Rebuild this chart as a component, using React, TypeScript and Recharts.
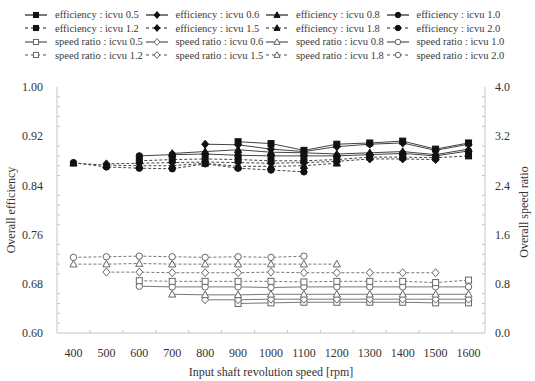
import { Legend, Line, LineChart, XAxis, YAxis } from "recharts";

// input shaft speed [rpm]
const RPM = [400, 500, 600, 700, 800, 900, 1000, 1100, 1200, 1300, 1400, 1500, 1600];

const EFF_05 = [null, null, null, null, null, 0.911, 0.908, 0.897, 0.907, 0.909, 0.912, 0.899, 0.909];
const EFF_06 = [null, null, null, null, 0.907, 0.906, 0.899, 0.895, 0.903, 0.907, 0.909, 0.897, 0.907];
const EFF_08 = [null, null, null, 0.892, 0.895, 0.898, 0.894, 0.893, 0.891, 0.893, 0.895, 0.89, 0.899];
const EFF_10 = [null, null, 0.888, 0.89, 0.891, 0.889, 0.888, 0.888, 0.888, 0.89, 0.892, 0.888, 0.896];
const EFF_12 = [null, null, 0.88, 0.882, 0.883, 0.882, 0.88, 0.88, 0.882, 0.886, 0.886, 0.885, 0.888];
const EFF_15 = [null, 0.875, 0.876, 0.877, 0.878, 0.877, 0.876, 0.877, 0.879, 0.883, 0.883, 0.882, null];
const EFF_18 = [0.876, 0.873, 0.872, 0.872, 0.876, 0.871, 0.871, 0.872, 0.876, null, null, null, null];
const EFF_20 = [0.877, 0.87, 0.868, 0.867, 0.875, 0.868, 0.865, 0.862, null, null, null, null, null];

// overall speed ratio
const SR_05 = [null, null, null, null, null, 0.48, 0.49, 0.5, 0.5, 0.5, 0.5, 0.49, 0.49];
const SR_06 = [null, null, null, null, 0.54, 0.54, 0.55, 0.55, 0.55, 0.55, 0.55, 0.55, 0.55];
const SR_08 = [null, null, null, 0.63, 0.62, 0.62, 0.63, 0.63, 0.63, 0.63, 0.63, 0.63, 0.63];
const SR_10 = [null, null, 0.76, 0.75, 0.75, 0.75, 0.74, 0.75, 0.75, 0.75, 0.75, 0.75, 0.75];
const SR_12 = [null, null, 0.85, 0.84, 0.84, 0.84, 0.84, 0.83, 0.84, 0.84, 0.84, 0.82, 0.86];
const SR_15 = [null, 0.99, 0.99, 0.98, 0.98, 0.98, 0.99, 0.98, 0.98, 0.98, 0.98, 0.98, null];
const SR_18 = [1.12, 1.12, 1.13, 1.12, 1.12, 1.12, 1.12, 1.12, 1.12, null, null, null, null];
const SR_20 = [1.23, 1.24, 1.25, 1.24, 1.23, 1.24, 1.23, 1.25, null, null, null, null, null];

const X_MINOR = [450, 550, 650, 750, 850, 950, 1050, 1150, 1250, 1350, 1450, 1550];
const EFF_TICKS = [0.6, 0.68, 0.76, 0.84, 0.92, 1.0];
const EFF_MINOR = [
  0.616, 0.632, 0.648, 0.664, 0.696, 0.712, 0.728, 0.744, 0.776, 0.792,
  0.808, 0.824, 0.856, 0.872, 0.888, 0.904, 0.936, 0.952, 0.968, 0.984,
];
const SR_TICKS = [0, 0.8, 1.6, 2.4, 3.2, 4.0];
const SR_MINOR = [
  0.16, 0.32, 0.48, 0.64, 0.96, 1.12, 1.28, 1.44, 1.76, 1.92,
  2.08, 2.24, 2.56, 2.72, 2.88, 3.04, 3.36, 3.52, 3.68, 3.84,
];

type Shape = "square" | "diamond" | "triangle" | "circle";

interface Series {
  key: string;
  name: string;
  axis: "eff" | "sr";
  shape: Shape;
  dashed: boolean;
  values: (number | null)[];
}

const SERIES: Series[] = [
  { key: "eff05", name: "efficiency : icvu 0.5", axis: "eff", shape: "square", dashed: false, values: EFF_05 },
  { key: "eff06", name: "efficiency : icvu 0.6", axis: "eff", shape: "diamond", dashed: false, values: EFF_06 },
  { key: "eff08", name: "efficiency : icvu 0.8", axis: "eff", shape: "triangle", dashed: false, values: EFF_08 },
  { key: "eff10", name: "efficiency : icvu 1.0", axis: "eff", shape: "circle", dashed: false, values: EFF_10 },
  { key: "eff12", name: "efficiency : icvu 1.2", axis: "eff", shape: "square", dashed: true, values: EFF_12 },
  { key: "eff15", name: "efficiency : icvu 1.5", axis: "eff", shape: "diamond", dashed: true, values: EFF_15 },
  { key: "eff18", name: "efficiency : icvu 1.8", axis: "eff", shape: "triangle", dashed: true, values: EFF_18 },
  { key: "eff20", name: "efficiency : icvu 2.0", axis: "eff", shape: "circle", dashed: true, values: EFF_20 },
  { key: "sr05", name: "speed ratio : icvu 0.5", axis: "sr", shape: "square", dashed: false, values: SR_05 },
  { key: "sr06", name: "speed ratio : icvu 0.6", axis: "sr", shape: "diamond", dashed: false, values: SR_06 },
  { key: "sr08", name: "speed ratio : icvu 0.8", axis: "sr", shape: "triangle", dashed: false, values: SR_08 },
  { key: "sr10", name: "speed ratio : icvu 1.0", axis: "sr", shape: "circle", dashed: false, values: SR_10 },
  { key: "sr12", name: "speed ratio : icvu 1.2", axis: "sr", shape: "square", dashed: true, values: SR_12 },
  { key: "sr15", name: "speed ratio : icvu 1.5", axis: "sr", shape: "diamond", dashed: true, values: SR_15 },
  { key: "sr18", name: "speed ratio : icvu 1.8", axis: "sr", shape: "triangle", dashed: true, values: SR_18 },
  { key: "sr20", name: "speed ratio : icvu 2.0", axis: "sr", shape: "circle", dashed: true, values: SR_20 },
];

const chartData = RPM.map((rpm, i) => {
  const row: Record<string, number | null> = { rpm };
  SERIES.forEach((s) => (row[s.key] = s.values[i]));
  return row;
});

const FONT = "'Liberation Serif', 'Times New Roman', serif";
const AXIS = "#c4c4c4";
const TEXT = "#333";

function Marker({ shape, x, y, filled, small }: { shape: Shape; x: number; y: number; filled: boolean; small?: boolean }) {
  const k = small ? 0.85 : 1;
  const fill = filled ? "#111" : "#fff";
  const stroke = filled ? "#111" : "#666";
  if (shape === "square")
    return <rect x={x - 3 * k} y={y - 3 * k} width={6 * k} height={6 * k} fill={fill} stroke={stroke} strokeWidth={1} />;
  if (shape === "diamond")
    return (
      <polygon
        points={`${x},${y - 4 * k} ${x + 3.5 * k},${y} ${x},${y + 4 * k} ${x - 3.5 * k},${y}`}
        fill={fill}
        stroke={stroke}
        strokeWidth={1}
      />
    );
  if (shape === "triangle")
    return (
      <polygon
        points={`${x},${y - 3.8 * k} ${x + 3.6 * k},${y + 2.8 * k} ${x - 3.6 * k},${y + 2.8 * k}`}
        fill={fill}
        stroke={stroke}
        strokeWidth={1}
      />
    );
  return <circle cx={x} cy={y} r={3.2 * k} fill={fill} stroke={stroke} strokeWidth={1} />;
}

function makeDot(s: Series) {
  return (props: any) => {
    const { cx, cy, index, value } = props;
    if (cx == null || cy == null || value == null) return <g key={`${s.key}-${index}`} />;
    return (
      <g key={`${s.key}-${index}`}>
        <Marker shape={s.shape} x={cx} y={cy} filled={s.axis === "eff"} />
      </g>
    );
  };
}

function XTick(props: any) {
  const { x, y, payload } = props;
  const v = payload.value;
  if (RPM.includes(v))
    return (
      <text x={x} y={y} dy="0.71em" textAnchor="middle" fontSize={12} fill={TEXT} fontFamily={FONT}>
        {v}
      </text>
    );
  return <line x1={x} x2={x} y1={y - 15} y2={y - 18} stroke={AXIS} />;
}

function EffTick(props: any) {
  const { x, y, payload } = props;
  const v = payload.value;
  if (EFF_TICKS.includes(v))
    return (
      <text x={x} y={y} dy="0.355em" textAnchor="end" fontSize={12} fill={TEXT} fontFamily={FONT}>
        {v.toFixed(2)}
      </text>
    );
  return <line x1={x + 14} x2={x + 17} y1={y} y2={y} stroke={AXIS} />;
}

function SrTick(props: any) {
  const { x, y, payload } = props;
  const v = payload.value;
  if (SR_TICKS.includes(v))
    return (
      <text x={x} y={y} dy="0.355em" textAnchor="start" fontSize={12} fill={TEXT} fontFamily={FONT}>
        {v.toFixed(1)}
      </text>
    );
  return <line x1={x - 10} x2={x - 13} y1={y} y2={y} stroke={AXIS} />;
}

function LegendGrid() {
  return (
    <div style={{ position: "relative", width: 535, height: 56, fontFamily: FONT, fontSize: 10.5, color: "#3a3a3a" }}>
      {SERIES.map((s, i) => (
        <div
          key={s.key}
          style={{
            position: "absolute",
            left: 25 + (i % 4) * 120.5,
            top: Math.floor(i / 4) * 13.5,
            height: 13.5,
            display: "flex",
            alignItems: "center",
            whiteSpace: "nowrap",
          }}
        >
          <svg width={22} height={10} style={{ marginRight: 8, flexShrink: 0 }}>
            <line
              x1={0}
              x2={22}
              y1={5}
              y2={5}
              stroke={s.axis === "eff" ? "#222" : "#555"}
              strokeWidth={1.2}
              strokeDasharray={s.dashed ? "3 3" : undefined}
            />
            <Marker shape={s.shape} x={11} y={5} filled={s.axis === "eff"} small />
          </svg>
          <span>{s.name}</span>
        </div>
      ))}
    </div>
  );
}

export default function App() {
  return (
    <div style={{ width: 535, height: 381, background: "#fff", fontFamily: FONT }}>
      <style>{`body{margin:0}`}</style>
      <LineChart width={535} height={381} data={chartData} margin={{ top: 87, right: 0, bottom: 0, left: 0 }}>
        <XAxis
          dataKey="rpm"
          type="number"
          domain={[350, 1650]}
          ticks={[...RPM, ...X_MINOR].sort((a, b) => a - b)}
          interval={0}
          tick={XTick}
          tickLine={false}
          tickSize={0}
          tickMargin={15}
          height={48}
          stroke={AXIS}
          allowDataOverflow
        />
        <YAxis
          yAxisId="eff"
          orientation="left"
          domain={[0.6, 1.0]}
          ticks={[...EFF_TICKS, ...EFF_MINOR].sort((a, b) => a - b)}
          interval={0}
          tick={EffTick}
          tickLine={false}
          tickSize={0}
          tickMargin={14}
          width={57}
          stroke={AXIS}
          allowDataOverflow
        />
        <YAxis
          yAxisId="sr"
          orientation="right"
          domain={[0, 4]}
          ticks={[...SR_TICKS, ...SR_MINOR].sort((a, b) => a - b)}
          interval={0}
          tick={SrTick}
          tickLine={false}
          tickSize={0}
          tickMargin={10}
          width={50}
          stroke={AXIS}
          allowDataOverflow
        />
        <Legend
          layout="vertical"
          align="center"
          verticalAlign="middle"
          wrapperStyle={{ top: 8, left: 0, width: 535, height: 56 }}
          content={() => <LegendGrid />}
        />
        {SERIES.map((s) => (
          <Line
            key={s.key}
            yAxisId={s.axis}
            dataKey={s.key}
            name={s.name}
            type="linear"
            stroke={s.axis === "eff" ? "#444" : "#777"}
            strokeWidth={1}
            strokeDasharray={s.dashed ? "3 2" : undefined}
            dot={makeDot(s)}
            activeDot={false}
            isAnimationActive={false}
          />
        ))}
        <text x={11} y={210} transform="rotate(-90 11 210)" textAnchor="middle" dominantBaseline="central" fontSize={12} fill={TEXT} fontFamily={FONT}>
          Overall efficiency
        </text>
        <text x={524} y={212} transform="rotate(-90 524 212)" textAnchor="middle" dominantBaseline="central" fontSize={12} fill={TEXT} fontFamily={FONT}>
          Overall speed ratio
        </text>
        <text x={271} y={376} textAnchor="middle" fontSize={12} fill={TEXT} fontFamily={FONT}>
          Input shaft revolution speed [rpm]
        </text>
      </LineChart>
    </div>
  );
}
